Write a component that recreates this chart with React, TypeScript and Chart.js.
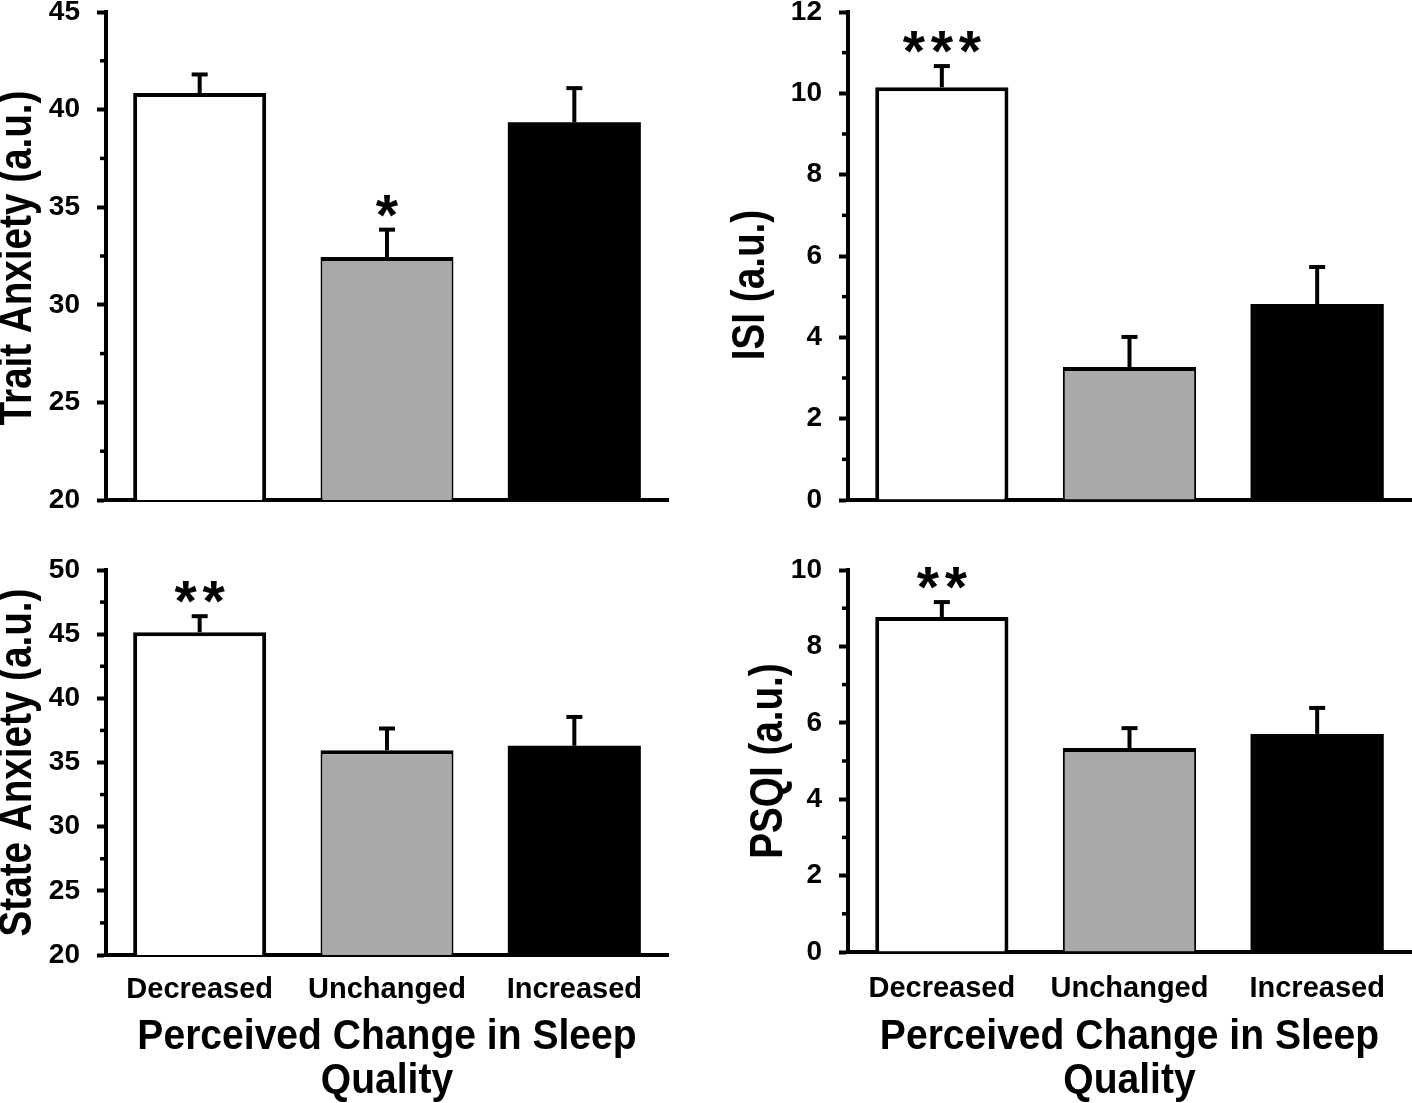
import React, { useEffect, useRef } from "react";
import { Chart, registerables } from "chart.js";

Chart.register(...registerables);

// ---------- data ----------
const categories = ["Decreased", "Unchanged", "Increased"];
const barColors = ["#ffffff", "#a9a9a9", "#000000"];
const xTitleLines = ["Perceived Change in Sleep", "Quality"];

const traitMeans = [40.85, 32.45, 39.35];
const traitErrors = [0.95, 1.4, 1.75];
const traitSig = ["", "*", ""];
const traitTicks = [20, 45, 5];

const isiMeans = [10.15, 3.27, 4.82];
const isiErrors = [0.52, 0.74, 0.91];
const isiSig = ["***", "", ""];
const isiTicks = [0, 12, 2];

const stateMeans = [45.15, 35.95, 36.3];
const stateErrors = [1.25, 1.7, 2.25];
const stateSig = ["**", "", ""];
const stateTicks = [20, 50, 5];

const psqiMeans = [8.77, 5.34, 5.71];
const psqiErrors = [0.39, 0.52, 0.68];
const psqiSig = ["**", "", ""];
const psqiTicks = [0, 10, 2];

const baseFamily = '"Liberation Sans", Arial, sans-serif';

type PanelProps = {
  means: number[];
  errors: number[];
  sig: string[];
  range: number[];
  yTitle: string;
  showX: boolean;
  left: number;
  top: number;
  width: number;
  height: number;
  padTop: number;
  yWidth: number;
  padRight: number;
  xHeight: number;
  titleOffset: number;
  titleShift: number;
  labelPad: number;
};

function Panel(p: PanelProps) {
  const ref = useRef<HTMLCanvasElement | null>(null);
  useEffect(() => {
    if (!ref.current) return;

    const overlay = {
      id: "errbars",
      beforeDraw(chart: any) {
        // condensed look of the axis titles (text still drawn by Chart.js)
        const ys = chart.scales.y;
        const xs = chart.scales.x;
        if (ys && !ys.__condensed) {
          const orig = ys.drawTitle.bind(ys);
          ys.drawTitle = () => {
            const ctx = chart.ctx as CanvasRenderingContext2D;
            const cy = (ys.top + ys.bottom) / 2;
            ctx.save();
            ctx.translate(0, cy + p.titleShift);
            ctx.scale(1, 0.84);
            ctx.translate(0, -cy);
            orig();
            ctx.restore();
          };
          ys.__condensed = true;
        }
        if (xs && !xs.__condensed) {
          const origX = xs.drawTitle.bind(xs);
          xs.drawTitle = () => {
            const ctx = chart.ctx as CanvasRenderingContext2D;
            const cx = (xs.left + xs.right) / 2;
            ctx.save();
            ctx.translate(cx, 0);
            ctx.scale(0.93, 1);
            ctx.translate(-cx, 0);
            origX();
            ctx.restore();
          };
          xs.__condensed = true;
        }
      },
      afterDatasetsDraw(chart: any) {
        const ctx = chart.ctx as CanvasRenderingContext2D;
        const xs = chart.scales.x;
        const ys = chart.scales.y;
        ctx.save();
        ctx.strokeStyle = "#000";
        ctx.fillStyle = "#000";
        ctx.lineCap = "butt";
        // minor ticks
        const ticks = ys.ticks;
        ctx.lineWidth = 3.5;
        for (let k = 0; k < ticks.length - 1; k++) {
          const v = (ticks[k].value + ticks[k + 1].value) / 2;
          const y = ys.getPixelForValue(v);
          ctx.beginPath();
          ctx.moveTo(chart.chartArea.left - 6, y);
          ctx.lineTo(chart.chartArea.left, y);
          ctx.stroke();
        }
        // error bars + significance stars
        ctx.font = `bold 60px ${baseFamily}`;
        const m0 = ctx.measureText("*");
        const h0 = m0.actualBoundingBoxAscent + m0.actualBoundingBoxDescent;
        const starSize = (60 * 22) / (h0 || 25);
        ctx.font = `bold ${starSize}px ${baseFamily}`;
        const m = ctx.measureText("*");
        const asc = m.actualBoundingBoxAscent;
        const desc = m.actualBoundingBoxDescent;
        ctx.textAlign = "center";
        ctx.textBaseline = "alphabetic";
        p.means.forEach((mean, i) => {
          const x = xs.getPixelForValue(i);
          const y0 = ys.getPixelForValue(mean);
          const y1 = ys.getPixelForValue(mean + p.errors[i]);
          ctx.lineWidth = 4;
          ctx.beginPath();
          ctx.moveTo(x, y0);
          ctx.lineTo(x, y1);
          ctx.stroke();
          ctx.beginPath();
          ctx.moveTo(x - 8, y1);
          ctx.lineTo(x + 8, y1);
          ctx.stroke();
          const s = p.sig[i];
          if (s) {
            const n = s.length;
            const pitch = 28;
            const cy = y1 - 24;
            const baseline = cy + (asc - desc) / 2;
            for (let k = 0; k < n; k++) {
              const cx = x + (k - (n - 1) / 2) * pitch;
              ctx.fillText("*", cx, baseline);
            }
          }
        });
        ctx.restore();
      },
    };

    const chart = new Chart(ref.current, {
      type: "bar",
      data: {
        labels: categories,
        datasets: [
          {
            data: p.means,
            backgroundColor: barColors,
            borderColor: "#000",
            borderWidth: [
              { top: 4, left: 4, right: 4, bottom: 0 },
              { top: 4, left: 2, right: 2, bottom: 0 },
              0,
            ] as any,
            borderSkipped: "start",
            barPercentage: 0.71,
            categoryPercentage: 1.0,
          },
        ],
      },
      options: {
        animation: false,
        responsive: false,
        maintainAspectRatio: false,
        events: [],
        layout: { padding: { top: p.padTop, right: p.padRight, left: 0, bottom: 0 } },
        plugins: {
          legend: { display: false },
          tooltip: { enabled: false },
        },
        scales: {
          x: {
            type: "category",
            offset: true,
            grid: { display: false, drawTicks: false },
            border: { display: true, color: "#000", width: 4 },
            ticks: {
              display: p.showX,
              color: "#000",
              padding: p.labelPad,
              maxRotation: 0,
              autoSkip: false,
              font: { family: baseFamily, size: 29, weight: "bold" },
            },
            title: {
              display: p.showX,
              text: xTitleLines,
              color: "#000",
              padding: { top: 0, bottom: 0 },
              font: { family: baseFamily, size: 42, weight: "bold", lineHeight: 1.048 },
            },
            afterFit: (s: any) => {
              s.height = p.xHeight;
              s.paddingLeft = 0;
              s.paddingRight = 0;
            },
          } as any,
          y: {
            type: "linear",
            min: p.range[0],
            max: p.range[1],
            ticks: {
              stepSize: p.range[2],
              color: "#000",
              padding: 17,
              font: { family: baseFamily, size: 28, weight: "bold" },
            },
            grid: {
              display: true,
              drawOnChartArea: false,
              drawTicks: true,
              tickLength: 9,
              tickWidth: 4,
              tickColor: "#000",
            },
            border: { display: true, color: "#000", width: 4 },
            title: {
              display: true,
              text: p.yTitle,
              color: "#000",
              padding: { top: p.titleOffset, bottom: 0 },
              font: { family: baseFamily, size: 46, weight: "bold", lineHeight: 0.8 },
            },
            afterFit: (s: any) => {
              s.width = p.yWidth;
              s.paddingTop = 0;
              s.paddingBottom = 0;
            },
          } as any,
        },
      },
      plugins: [overlay],
    });
    return () => chart.destroy();
  }, []);

  return (
    <canvas
      ref={ref}
      width={p.width}
      height={p.height}
      style={{
        position: "absolute",
        left: p.left,
        top: p.top,
        width: p.width,
        height: p.height,
      }}
    />
  );
}

export default function App() {
  useEffect(() => {
    document.body.style.margin = "0";
    document.body.style.background = "#ffffff";
  }, []);
  return (
    <div style={{ position: "absolute", left: 0, top: 0, width: 1412, height: 1103, background: "#fff", overflow: "hidden" }}>
      <Panel
        means={traitMeans}
        errors={traitErrors}
        sig={traitSig}
        range={traitTicks}
        yTitle="Trait Anxiety (a.u.)"
        showX={false}
        left={0}
        top={0}
        width={706}
        height={540}
        padTop={12}
        yWidth={106}
        padRight={38}
        xHeight={40}
        titleOffset={0}
        titleShift={2}
        labelPad={14}
      />
      <Panel
        means={isiMeans}
        errors={isiErrors}
        sig={isiSig}
        range={isiTicks}
        yTitle="ISI (a.u.)"
        showX={false}
        left={706}
        top={0}
        width={706}
        height={540}
        padTop={12}
        yWidth={142}
        padRight={1}
        xHeight={40}
        titleOffset={27}
        titleShift={29}
        labelPad={14}
      />
      <Panel
        means={stateMeans}
        errors={stateErrors}
        sig={stateSig}
        range={stateTicks}
        yTitle="State Anxiety (a.u.)"
        showX={true}
        left={0}
        top={540}
        width={706}
        height={563}
        padTop={30}
        yWidth={106}
        padRight={38}
        xHeight={148}
        titleOffset={0}
        titleShift={0}
        labelPad={18}
      />
      <Panel
        means={psqiMeans}
        errors={psqiErrors}
        sig={psqiSig}
        range={psqiTicks}
        yTitle="PSQI (a.u.)"
        showX={true}
        left={706}
        top={540}
        width={706}
        height={563}
        padTop={30}
        yWidth={142}
        padRight={1}
        xHeight={151}
        titleOffset={45}
        titleShift={0}
        labelPad={20}
      />
    </div>
  );
}
